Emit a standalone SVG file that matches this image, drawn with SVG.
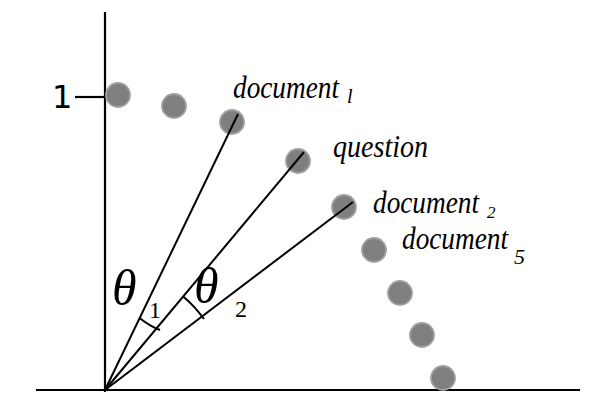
<svg xmlns="http://www.w3.org/2000/svg" width="594" height="394" viewBox="0 0 594 394">
<style>
.ax{stroke:#000;stroke-width:2.2;fill:none}
.ray{stroke:#000;stroke-width:2;fill:none}
.dot{fill:#7f7f7f;stroke:#a0a0a0;stroke-width:1.8}
</style>
<rect width="594" height="394" fill="#fff"/>
<g id="axes">
<line class="ax" x1="105" y1="12" x2="105" y2="392"/>
<line class="ax" x1="36" y1="390" x2="580" y2="390"/>
<line class="ax" x1="75" y1="97" x2="105" y2="97"/>
<text x="52" y="108" font-family="DejaVu Sans, sans-serif" font-size="32">1</text>
</g>
<g id="dots">
<circle class="dot" cx="118" cy="95" r="12"/>
<circle class="dot" cx="174" cy="106" r="12"/>
<circle class="dot" cx="232" cy="122" r="12"/>
<circle class="dot" cx="298" cy="161" r="12"/>
<circle class="dot" cx="344" cy="207" r="12"/>
<circle class="dot" cx="374" cy="250" r="12"/>
<circle class="dot" cx="400" cy="293" r="12"/>
<circle class="dot" cx="422" cy="335" r="12"/>
<circle class="dot" cx="443" cy="378" r="12"/>
</g>
<g id="connectors">
<line class="ray" x1="105" y1="390" x2="238" y2="114"/>
<line class="ray" x1="105" y1="390" x2="304" y2="152"/>
<line class="ray" x1="105" y1="390" x2="353" y2="202"/>
<path class="ray" d="M139.6,317.9 A80,80 0 0 0 160,330"/>
<path class="ray" d="M183.2,296.4 A122,122 0 0 1 204,319"/>
</g>
<g id="labels" font-family="Liberation Serif, Times New Roman, serif" fill="#000" font-style="italic">
<text font-size="31"><tspan x="233" y="98" textLength="106" lengthAdjust="spacingAndGlyphs">document</tspan><tspan x="347" y="103" font-size="20">l</tspan></text>
<text font-size="31" x="333" y="157" textLength="95" lengthAdjust="spacingAndGlyphs">question</text>
<text font-size="31"><tspan x="373" y="213" textLength="106" lengthAdjust="spacingAndGlyphs">document</tspan><tspan x="487" y="218" font-size="17">2</tspan></text>
<text font-size="31"><tspan x="402" y="249" textLength="106" lengthAdjust="spacingAndGlyphs">document</tspan><tspan x="514" y="264" font-size="22">5</tspan></text>
<text font-size="50"><tspan x="112" y="305">θ</tspan><tspan x="149" y="318" font-size="24" font-style="normal">1</tspan></text>
<text font-size="50"><tspan x="194" y="303">θ</tspan><tspan x="235" y="317" font-size="24" font-style="normal">2</tspan></text>
</g>
</svg>
